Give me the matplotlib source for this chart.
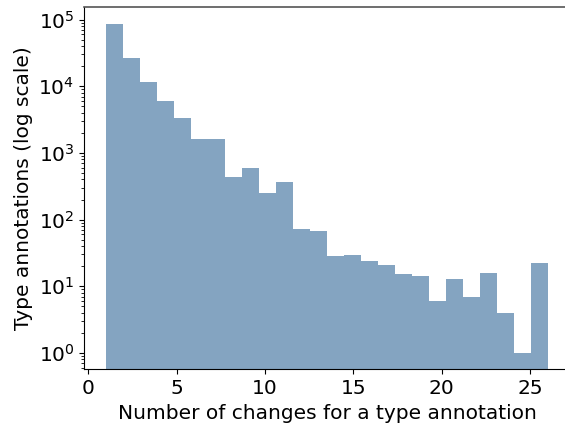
import matplotlib
matplotlib.use("Agg")
import matplotlib.pyplot as plt

# number of changes (1..26) and how many type annotations had that many
changes = list(range(1, 27))
counts = [87000, 27000, 11700, 6050, 3380, 1630, 1630, 437, 600, 252,
          370, 73, 68, 28, 29, 24, 21, 15, 14, 6,
          13, 7, 16, 4, 1, 22]

fig = plt.figure(figsize=(5.65, 4.25), dpi=100)
ax = fig.add_axes([0.1487, 0.131, 0.86, 0.852])

ax.hist(changes, bins=26, weights=counts, log=True,
        histtype="stepfilled", color="#84a4c1")

ax.set_xlabel("Number of changes for a type annotation", fontsize=14.5)
ax.set_ylabel("Type annotations (log scale)", fontsize=14.5)
ax.tick_params(labelsize=14.5)
ax.set_xticks([0, 5, 10, 15, 20, 25])

ax.spines["right"].set_visible(False)
ax.spines["top"].set_color("#555555")
ax.spines["top"].set_linewidth(1.2)

fig.savefig("out.png", dpi=100)
